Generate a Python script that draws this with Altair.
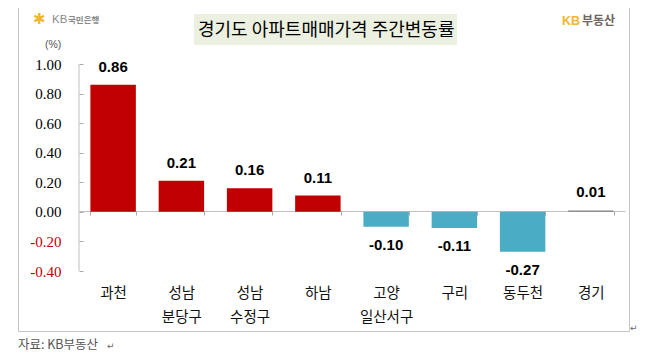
import altair as alt
import pandas as pd

categories = ["과천", "성남|분당구", "성남|수정구", "하남", "고양|일산서구", "구리", "동두천", "경기"]
values = [0.86, 0.21, 0.16, 0.11, -0.10, -0.11, -0.27, 0.01]
groups = ["up", "up", "up", "up", "down", "down", "down", "total"]
y_ticks = [1.0, 0.8, 0.6, 0.4, 0.2, 0.0, -0.2, -0.4]

df = pd.DataFrame({"cat": categories, "val": values, "group": groups})

KR = "Noto Sans CJK KR"
GRID = "#a8a8a8"
PW, PH = 546, 207
OX, OY = 79, 64  # page position of plot origin
FMT = "replace(format({0}, '.2f'), '\u2212', '-')"


def px(x):
    return x - OX


def py(y):
    return y - OY


x_enc = alt.X(
    "cat:N",
    sort=categories,
    title=None,
    scale=alt.Scale(paddingInner=0.334, paddingOuter=0.167),
    axis=alt.Axis(
        orient="bottom",
        offset=-60,
        ticks=True,
        tickBand="extent",
        tickSize=4,
        tickWidth=1,
        tickOpacity=1,
        tickColor=GRID,
        domainColor="#bfbfbf",
        labelAngle=0,
        labelFont=KR,
        labelFontSize=14.5,
        labelColor="#111111",
        labelPadding=71,
        labelLineHeight=24,
        labelBaseline="top",
        labelOverlap=False,
        labelExpr="split(datum.label, '|')",
    ),
)
y_enc = alt.Y(
    "val:Q",
    title=None,
    scale=alt.Scale(domain=[-0.4, 1.0], nice=False),
    axis=alt.Axis(
        values=y_ticks,
        offset=-4,
        domain=False,
        grid=False,
        ticks=True,
        tickSize=4,
        tickWidth=1,
        tickOpacity=1,
        tickColor=GRID,
        labelFont="Liberation Serif",
        labelFontSize=15,
        labelPadding=18,
        labelOverlap=False,
        labelSeparation=0,
        labelBound=False,
        labelExpr=FMT.format("datum.value"),
        labelColor=alt.expr("datum.value < 0 ? '#c00000' : '#000000'"),
    ),
)

base = alt.Chart(df)

bars = base.mark_bar().encode(
    x=x_enc,
    y=y_enc,
    y2=alt.Y2(datum=0),
    color=alt.Color(
        "group:N",
        legend=None,
        scale=alt.Scale(domain=["up", "down", "total"], range=["#c00000", "#4bacc6", "#808080"]),
    ),
)


def val_labels(test, dy):
    return (
        base.transform_filter(test)
        .transform_calculate(lab=FMT.format("datum.val"))
        .mark_text(font="Liberation Sans", fontSize=15, fontWeight="bold", color="#000000", dy=dy)
        .encode(x=x_enc, y=y_enc, text="lab:N")
    )


def note(text, x, y, size, color="#000000", font=KR, align="left", weight="normal"):
    return (
        alt.Chart(pd.DataFrame({"t": [text]}))
        .mark_text(font=font, fontSize=size, color=color, align=align, baseline="middle", fontWeight=weight)
        .encode(x=alt.value(px(x)), y=alt.value(py(y)), text="t:N")
    )


def box(x0, x1, y0, y1, fill, stroke=None):
    kw = {"fill": fill}
    if stroke:
        kw.update(stroke=stroke, strokeWidth=1)
    return (
        alt.Chart(pd.DataFrame({"k": [0]}))
        .mark_rect(**kw)
        .encode(
            x=alt.value(px(x0)),
            x2=alt.value(px(x1)),
            y=alt.value(py(y0)),
            y2=alt.value(py(y1)),
        )
    )


frame = box(18.5, 629.5, 1.5, 331.5, "transparent", "#c4c4c4")
title_bg = box(194, 457, 14, 45, "#ebf0e1")
y_domain = (
    alt.Chart(pd.DataFrame({"k": [0]}))
    .mark_rule(color="#bfbfbf")
    .encode(x=alt.value(0), y=alt.value(0), y2=alt.value(PH))
)

chart = (
    alt.layer(
        frame,
        title_bg,
        y_domain,
        bars,
        val_labels("datum.val >= 0", -18),
        val_labels("datum.val < 0", 18),
        note("경기도 아파트매매가격 주간변동률", 198, 31, 18),
        note("✱", 33, 19, 15, "#f2b632", "DejaVu Sans"),
        note("KB", 52, 19.5, 11.5, "#8a8a8a", "Liberation Sans"),
        note("국민은행", 68, 19.5, 8.5, "#8a8a8a", KR, weight="bold"),
        note("KB", 562, 21, 12.5, "#f2b632", "Liberation Sans", weight="bold"),
        note("부동산", 582, 21, 12, "#6e6460", KR, weight="bold"),
        note("(%)", 45, 44.5, 10.5, "#555555", "Liberation Sans"),
        note("자료: KB부동산", 18, 345, 12.5, "#555555"),
        note("↵", 107, 346, 9, "#666666", "DejaVu Sans"),
        note("↵", 630, 328, 9, "#666666", "DejaVu Sans"),
    )
    .properties(
        width=PW,
        height=PH,
        padding={"left": 71, "top": 56, "right": 24, "bottom": 81},
        autosize=alt.AutoSizeParams(type="none"),
        background="#ffffff",
    )
    .configure_view(stroke=None)
)

chart.save("out.html", embed_options={"renderer": "svg", "actions": False})
